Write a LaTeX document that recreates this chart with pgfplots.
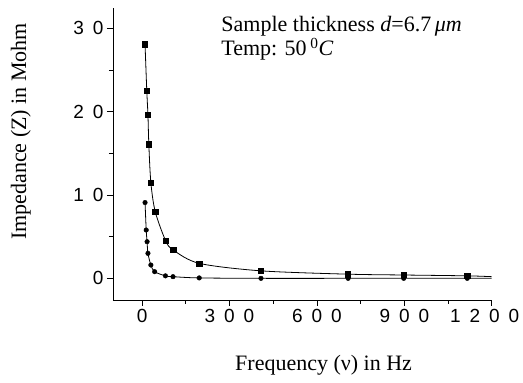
\documentclass[border=0pt]{standalone}
\usepackage{pgfplots}
\pgfplotsset{compat=1.18}
\usepackage{fontspec}
\setmainfont{Liberation Serif}
\newfontfamily\tickfont{Liberation Sans}
\newcommand\g{\hspace{0.47em}}
\pgfplotstableread{
f Z
10 28.1
16 22.5
20 19.6
23 16.1
30 11.5
45 8.0
81 4.5
107 3.4
196 1.8
408 0.9
707 0.5
898 0.4
1116 0.3
}\squares
\pgfplotstableread{
f Z
10 9.1
14 5.8
17 4.4
20 3.0
30 1.6
43 0.8
80 0.3
106 0.2
196 0.05
408 0.0
707 0.0
898 0.0
1116 0.0
}\circles
\begin{document}
\begin{tikzpicture}
\useasboundingbox (-113pt,-83pt) rectangle (410pt,300pt);
\begin{axis}[
 at={(0pt,0pt)}, anchor=south west,
 scale only axis, width=378.7pt, height=292pt,
 xmin=-100, xmax=1200, ymin=-2.6, ymax=32.45,
 axis x line=bottom, axis y line=left,
 axis line style={-, line width=0.8pt},
 tick align=outside, major tick length=6pt, minor tick length=4pt,
 tick style={line width=0.8pt, black},
 xtick={0,300,600,900,1200},
 xticklabels={0, 3\g0\g0, 6\g0\g0, 9\g0\g0, 1\g2\g0\g0\hspace*{14pt}},
 minor xtick={150,450,750,1050},
 ytick={0,10,20,30}, yticklabels={0,1\g0,2\g0,3\g0},
 minor ytick={5,15,25},
 ticklabel style={font=\tickfont\fontsize{19}{21}\selectfont},
 xlabel={Frequency (ν) in Hz}, ylabel={Impedance (Z) in Mohm},
 label style={font=\fontsize{22}{24}\selectfont},
 xlabel style={at={(axis description cs:0.556,-0.242)}, anchor=base},
 ylabel style={at={(axis description cs:-0.2297,0.577)}, anchor=base},
 clip=false,
]
\addplot[black, line width=0.8pt, smooth, tension=0.5] coordinates {
(10,28.1)(16,22.5)(20,19.6)(23,16.1)(30,11.5)(45,8.0)(81,4.5)(107,3.4)(196,1.8)(408,0.9)(707,0.5)(898,0.4)(1116,0.3)(1200,0.2)};
\addplot[black, line width=0.8pt, smooth, tension=0.5] coordinates {
(10,9.1)(14,5.8)(17,4.4)(20,3.0)(30,1.6)(43,0.8)(80,0.3)(106,0.2)(196,0.05)(408,0.0)(707,0.0)(898,0.0)(1116,0.0)(1200,0.0)};
\addplot[only marks, mark=square*, mark size=2.6pt, black] table[x=f,y=Z] {\squares};
\addplot[only marks, mark=*, mark size=2.3pt, black] table[x=f,y=Z] {\circles};
\node[anchor=base west, font=\fontsize{22}{24}\selectfont] at (axis description cs:0.277,0.918) {Sample thickness \textit{d}=6.7\,\textit{μm}};
\node[anchor=base west, font=\fontsize{22}{24}\selectfont] at (axis description cs:0.277,0.836) {Temp: 50\,\textsuperscript{0}\textit{C}};
\end{axis}
\end{tikzpicture}
\end{document}
